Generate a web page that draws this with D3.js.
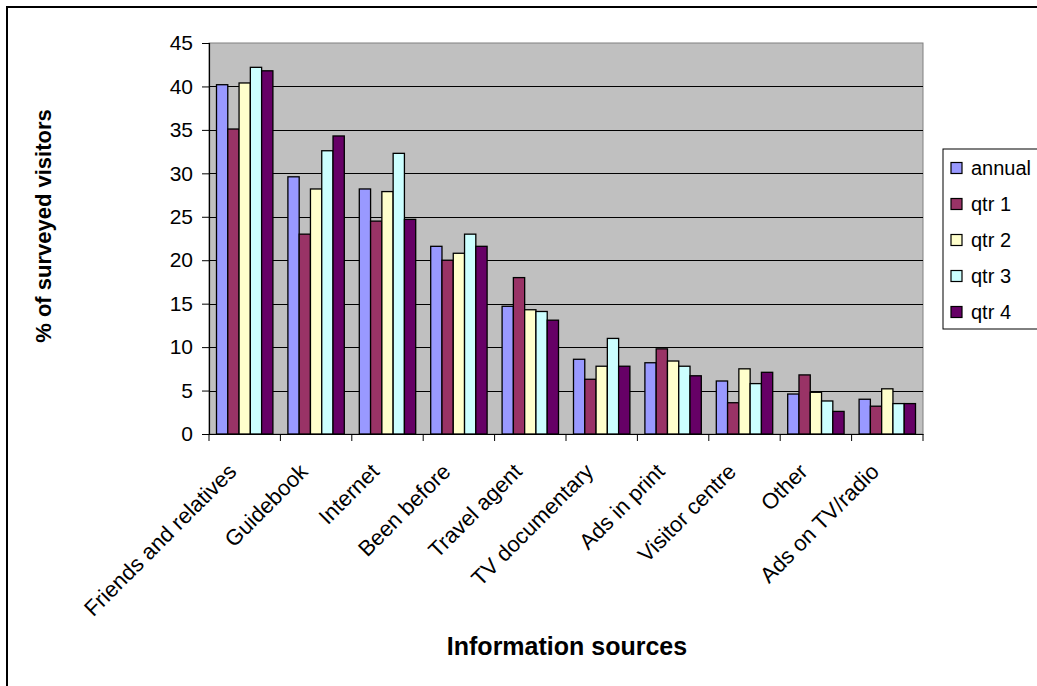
<!DOCTYPE html>
<html>
<head>
<meta charset="utf-8">
<script src="https://cdn.jsdelivr.net/npm/d3@7/dist/d3.min.js"></script>
<style>
  html, body { margin: 0; padding: 0; background: #fff; }
  svg { display: block; }
  text { font-family: "Liberation Sans", Arial, sans-serif; fill: #000; }
</style>
</head>
<body>
<svg id="chart" width="1037" height="686"></svg>
<script>
const categories = ["Friends and relatives", "Guidebook", "Internet", "Been before", "Travel agent",
  "TV documentary", "Ads in print", "Visitor centre", "Other", "Ads on TV/radio"];
const seriesNames = ["annual", "qtr 1", "qtr 2", "qtr 3", "qtr 4"];
const annual = [40.2, 29.6, 28.2, 21.6, 14.7, 8.6, 8.2, 6.1, 4.6, 4.0];
const qtr1   = [35.1, 23.0, 24.5, 20.0, 18.0, 6.3, 9.8, 3.6, 6.8, 3.2];
const qtr2   = [40.4, 28.2, 27.9, 20.8, 14.3, 7.8, 8.4, 7.5, 4.8, 5.2];
const qtr3   = [42.2, 32.6, 32.3, 23.0, 14.1, 11.0, 7.8, 5.8, 3.8, 3.5];
const qtr4   = [41.8, 34.3, 24.7, 21.6, 13.1, 7.8, 6.7, 7.1, 2.6, 3.5];
const colors = ["#9999FF", "#993366", "#FFFFCC", "#CCFFFF", "#660066"];
const yTicks = [0, 5, 10, 15, 20, 25, 30, 35, 40, 45];

const seriesValues = [annual, qtr1, qtr2, qtr3, qtr4];

const svg = d3.select("#chart");
const plot = { left: 209, right: 923, top: 43, bottom: 434 };

// outer chart border
svg.append("rect").attr("x", 7).attr("y", 7).attr("width", 1100).attr("height", 1000)
  .attr("fill", "#fff").attr("stroke", "#000").attr("stroke-width", 2);

const x0 = d3.scaleBand().domain(categories).range([plot.left, plot.right])
  .paddingInner(0.21).paddingOuter(0.105);
const x1 = d3.scaleBand().domain(seriesNames).range([0, x0.bandwidth()]);
const y = d3.scaleLinear().domain([0, 45]).range([plot.bottom, plot.top]);
const color = d3.scaleOrdinal().domain(seriesNames).range(colors);

// plot background
svg.append("rect").attr("x", plot.left).attr("y", plot.top)
  .attr("width", plot.right - plot.left).attr("height", plot.bottom - plot.top)
  .attr("fill", "#C0C0C0").attr("stroke", "#808080").attr("stroke-width", 1);

// gridlines
svg.append("g").selectAll("line").data(yTicks.filter(d => d > 0 && d < 45)).join("line")
  .attr("x1", plot.left).attr("x2", plot.right)
  .attr("y1", d => Math.round(y(d)) + 0.5).attr("y2", d => Math.round(y(d)) + 0.5)
  .attr("stroke", "#000").attr("stroke-width", 1);

// bars
const rows = categories.map((c, i) => ({ cat: c, vals: seriesNames.map((s, j) => ({ s, v: seriesValues[j][i] })) }));
svg.append("g").selectAll("g").data(rows).join("g")
  .attr("transform", d => `translate(${x0(d.cat)},0)`)
  .selectAll("rect").data(d => d.vals).join("rect")
  .attr("x", d => x1(d.s)).attr("width", x1.bandwidth())
  .attr("y", d => y(d.v)).attr("height", d => y(0) - y(d.v))
  .attr("fill", d => color(d.s)).attr("stroke", "#000").attr("stroke-width", 1.3);

// y axis
const yAxis = svg.append("g").attr("transform", `translate(${plot.left},0)`)
  .call(d3.axisLeft(y).tickValues(yTicks).tickSize(7).tickPadding(9).tickFormat(d3.format("d")));
yAxis.select(".domain").attr("stroke", "#000").attr("stroke-width", 1.2);
yAxis.selectAll(".tick line").attr("stroke", "#000");
yAxis.selectAll("text").attr("font-size", 21).attr("font-family", "Liberation Sans, Arial, sans-serif");

// x axis
const xAxis = svg.append("g").attr("transform", `translate(0,${plot.bottom})`)
  .call(d3.axisBottom(x0).tickSize(0).tickFormat(""));
xAxis.select(".domain").attr("stroke", "#000").attr("stroke-width", 1.2);
const step = x0.step();
const boundaries = d3.range(categories.length + 1).map(i => plot.left + i * step);
svg.append("g").selectAll("line").data(boundaries).join("line")
  .attr("x1", d => d).attr("x2", d => d)
  .attr("y1", plot.bottom).attr("y2", plot.bottom + 7)
  .attr("stroke", "#000").attr("stroke-width", 1);

svg.append("g").selectAll("text").data(categories).join("text")
  .attr("transform", d => `translate(${x0(d) + x0.bandwidth() / 2 - 7},${plot.bottom + 39}) rotate(-45)`)
  .attr("text-anchor", "end").attr("font-size", 22)
  .text(d => d);

// axis titles
svg.append("text").attr("transform", "translate(51,226) rotate(-90)")
  .attr("text-anchor", "middle").attr("font-size", 22).attr("font-weight", "bold")
  .text("% of surveyed visitors");
svg.append("text").attr("x", 567).attr("y", 655)
  .attr("text-anchor", "middle").attr("font-size", 25).attr("font-weight", "bold")
  .text("Information sources");

// legend
const legend = svg.append("g");
legend.append("rect").attr("x", 943).attr("y", 149).attr("width", 120).attr("height", 180)
  .attr("fill", "#fff").attr("stroke", "#000").attr("stroke-width", 1);
const items = legend.selectAll("g.item").data(seriesNames).join("g").attr("class", "item")
  .attr("transform", (d, i) => `translate(0,${168 + i * 36})`);
items.append("rect").attr("x", 951).attr("y", -5.5).attr("width", 11).attr("height", 11)
  .attr("fill", d => color(d)).attr("stroke", "#000").attr("stroke-width", 1.2);
items.append("text").attr("x", 971).attr("y", 0).attr("dy", "0.35em")
  .attr("font-size", 20).text(d => d);
</script>
</body>
</html>
